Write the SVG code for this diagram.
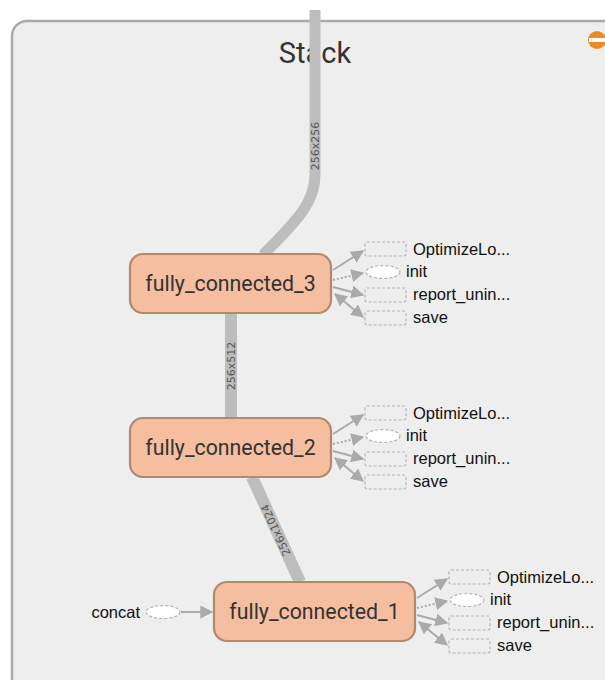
<svg xmlns="http://www.w3.org/2000/svg" width="605" height="680" viewBox="0 0 605 680">
<style>
.node rect{fill:#f5bea0;stroke:#b5886c;stroke-width:2.2}
.node text{font-family:Roboto,"Liberation Sans",sans-serif;font-size:21.3px;fill:#333;text-anchor:middle}
.aux rect{fill:none;stroke:#b4b4b4;stroke-width:1.2;stroke-dasharray:3,2}
.aux ellipse{fill:#fff;stroke:#b4b4b4;stroke-width:1.2;stroke-dasharray:3,2}
.aux text{font-family:"Liberation Sans",Arial,sans-serif;font-size:16.5px;fill:#111}
.big{fill:none;stroke:#bdbdbd}
.elabel{font-family:"DejaVu Sans",sans-serif;font-size:11px;fill:#555;text-anchor:middle;dominant-baseline:central}
.ar{fill:none;stroke:#aaa;stroke-width:2;marker-end:url(#ah)}
.dot{stroke-dasharray:2,2}
.bi{marker-start:url(#ahs)}
</style>
<defs>
<marker id="ah" viewBox="0 0 10 10" refX="9" refY="5" markerWidth="6.5" markerHeight="6.5" markerUnits="strokeWidth" orient="auto"><path d="M0,0 L10,5 L0,10 z" fill="#aaa"/></marker>
<marker id="ahs" viewBox="0 0 10 10" refX="9" refY="5" markerWidth="6.5" markerHeight="6.5" markerUnits="strokeWidth" orient="auto-start-reverse"><path d="M0,0 L10,5 L0,10 z" fill="#aaa"/></marker>
</defs>
<rect width="605" height="680" fill="#fff"/>
<g id="stack">
<rect x="12" y="21" width="620" height="700" rx="15" fill="#eeeeee" stroke="#aaaaaa" stroke-width="2.5"/>
<text x="315" y="63" font-family="Roboto,'Liberation Sans',sans-serif" font-size="29" fill="#333" text-anchor="middle">Stack</text>
<circle cx="597" cy="40" r="9" fill="#ef8a22"/>
<rect x="589" y="38" width="16" height="4" fill="#fff"/>
</g>
<g id="connectors">
<path class="big" stroke-width="11" d="M315,10 L315,175 C315,205 292,225 263,255"/>
<text class="elabel" transform="translate(315,146) rotate(-90)">256x256</text>
<path class="big" stroke-width="12" d="M231,313 L231,418"/>
<text class="elabel" transform="translate(231,366) rotate(-90)">256x512</text>
<path class="big" stroke-width="12" d="M300,582 L252,477"/>
<text class="elabel" transform="translate(276,530) rotate(-114.6)">256x1024</text>
<path class="ar" d="M181,612 L212,612"/>
<path class="ar" d="M333,270 L363,251"/>
<path class="ar dot" d="M333,280 L363,273"/>
<path class="ar" d="M333,287 L363,295"/>
<path class="ar bi" d="M335,294 L363,317"/>
<path class="ar" d="M333,434 L363,415"/>
<path class="ar dot" d="M333,444 L363,437"/>
<path class="ar" d="M333,451 L363,459"/>
<path class="ar bi" d="M335,458 L363,481"/>
<path class="ar" d="M417,598 L447,579"/>
<path class="ar dot" d="M417,608 L447,601"/>
<path class="ar" d="M417,615 L447,623"/>
<path class="ar bi" d="M419,622 L447,645"/>
</g>
<g id="fully_connected_3" class="node"><rect x="130" y="254" width="201" height="59" rx="13"/><text x="230.5" y="291">fully_connected_3</text></g>
<g id="fully_connected_2" class="node"><rect x="130" y="418" width="201" height="59" rx="13"/><text x="230.5" y="455">fully_connected_2</text></g>
<g id="fully_connected_1" class="node"><rect x="214" y="582" width="201" height="59" rx="13"/><text x="314.5" y="619">fully_connected_1</text></g>
<g id="concat" class="aux"><ellipse cx="163" cy="612" rx="17" ry="6.5"/><text x="140" y="618" text-anchor="end">concat</text></g>
<g id="fc3_optimize" class="aux"><rect x="365" y="242" width="41" height="14" rx="2"/><text x="413" y="255">OptimizeLo...</text></g>
<g id="fc3_init" class="aux"><ellipse cx="383" cy="272" rx="17" ry="6.5"/><text x="406" y="277">init</text></g>
<g id="fc3_report" class="aux"><rect x="365" y="288" width="41" height="14" rx="2"/><text x="413" y="300">report_unin...</text></g>
<g id="fc3_save" class="aux"><rect x="365" y="311" width="41" height="14" rx="2"/><text x="413" y="323">save</text></g>
<g id="fc2_optimize" class="aux"><rect x="365" y="406" width="41" height="14" rx="2"/><text x="413" y="419">OptimizeLo...</text></g>
<g id="fc2_init" class="aux"><ellipse cx="383" cy="436" rx="17" ry="6.5"/><text x="406" y="441">init</text></g>
<g id="fc2_report" class="aux"><rect x="365" y="452" width="41" height="14" rx="2"/><text x="413" y="464">report_unin...</text></g>
<g id="fc2_save" class="aux"><rect x="365" y="475" width="41" height="14" rx="2"/><text x="413" y="487">save</text></g>
<g id="fc1_optimize" class="aux"><rect x="449" y="570" width="41" height="14" rx="2"/><text x="497" y="583">OptimizeLo...</text></g>
<g id="fc1_init" class="aux"><ellipse cx="467" cy="600" rx="17" ry="6.5"/><text x="490" y="605">init</text></g>
<g id="fc1_report" class="aux"><rect x="449" y="616" width="41" height="14" rx="2"/><text x="497" y="628">report_unin...</text></g>
<g id="fc1_save" class="aux"><rect x="449" y="639" width="41" height="14" rx="2"/><text x="497" y="651">save</text></g>
</svg>
